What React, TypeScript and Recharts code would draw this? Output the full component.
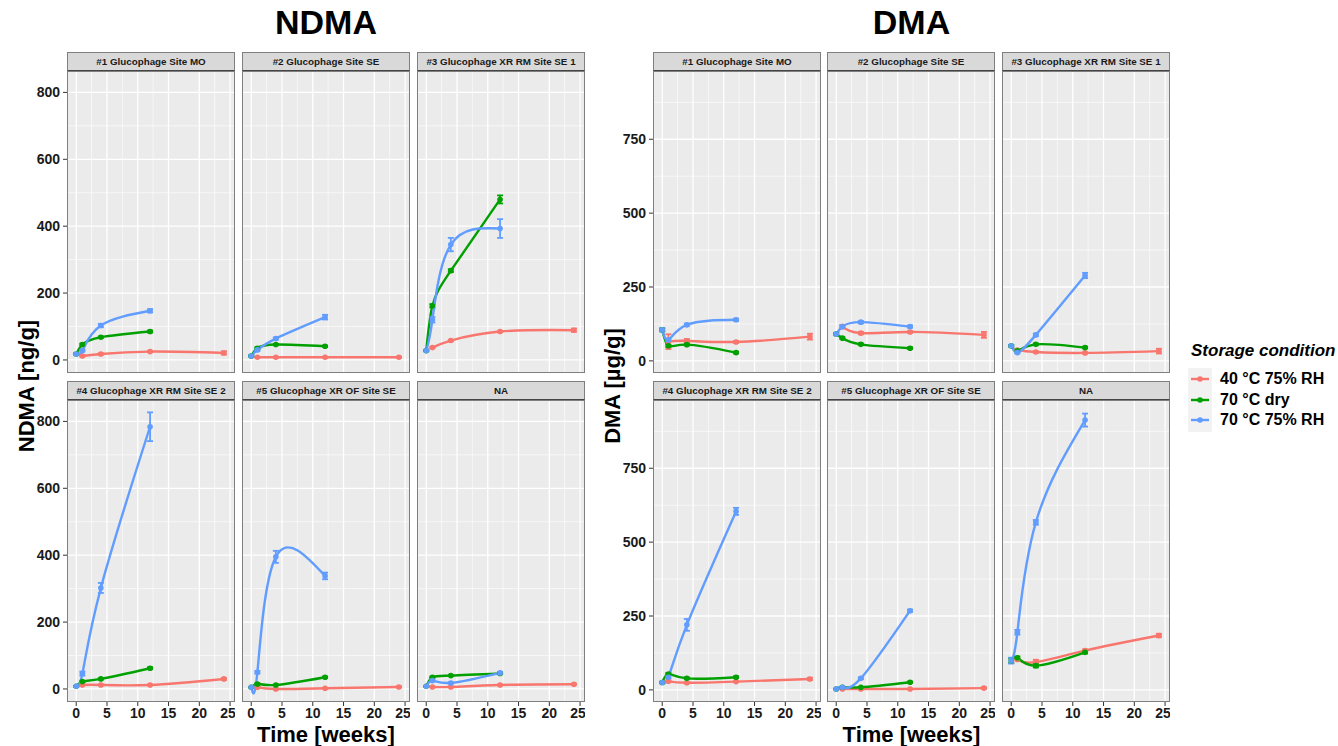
import React from 'react';
import { ComposedChart, Line, XAxis, YAxis, CartesianGrid, ErrorBar } from 'recharts';

const FONT = '"Liberation Sans", Arial, Helvetica, sans-serif';

const facetTitles = [
  '#1 Glucophage Site MO',
  '#2 Glucophage Site SE',
  '#3 Glucophage XR RM Site SE 1',
  '#4 Glucophage XR RM Site SE 2',
  '#5 Glucophage XR OF Site SE',
  'NA',
];

const conditions = ['40 °C 75% RH', '70 °C dry', '70 °C 75% RH'];
const conditionColors = ['#F8766D', '#00A000', '#619CFF'];

// sampling weeks per storage condition
const weeks40 = [1, 4, 12, 24];
const weeks70 = [0, 1, 4, 12];

const xTicks = [0, 5, 10, 15, 20, 25];
const xMinor = [2.5, 7.5, 12.5, 17.5, 22.5];

const ndmaTicks = [0, 200, 400, 600, 800];
const ndmaMinor = [100, 300, 500, 700];
const dmaTicks = [0, 250, 500, 750];
const dmaMinor = [125, 375, 625, 875];

// NDMA [ng/g], one row per facet
const ndma40 = [
  [12, 18, 25, 21],
  [8, 8, 8, 8],
  [37, 58, 85, 89],
  [12, 12, 12, 30],
  [5, 0, 2, 6],
  [6, 6, 12, 14],
];
const ndma40Err = [
  [2, 2, 2, 5],
  [1, 1, 1, 2],
  [2, 2, 2, 5],
  [1, 1, 1, 3],
  [1, 1, 1, 2],
  [1, 1, 1, 2],
];
const ndmaDry = [
  [18, 46, 68, 85],
  [12, 35, 46, 41],
  [28, 162, 267, 480],
  [8, 22, 30, 62],
  [5, 15, 12, 35],
  [8, 35, 40, 46],
];
const ndmaDryErr = [
  [2, 3, 2, 3],
  [2, 3, 2, 2],
  [2, 5, 4, 12],
  [1, 2, 2, 3],
  [1, 2, 1, 2],
  [1, 2, 2, 2],
];
const ndmaHumid = [
  [18, 28, 103, 147],
  [12, 30, 64, 128],
  [28, 120, 345, 393],
  [8, 46, 302, 784],
  [5, 50, 395, 338],
  [8, 25, 18, 48],
];
const ndmaHumidErr = [
  [2, 3, 5, 5],
  [2, 3, 3, 7],
  [2, 8, 20, 28],
  [1, 6, 15, 43],
  [1, 4, 18, 10],
  [1, 2, 2, 3],
];

// DMA [µg/g], one row per facet
const dma40 = [
  [65, 68, 64, 82],
  [116, 94, 98, 88],
  [37, 30, 27, 33],
  [29, 24, 28, 37],
  [3, 3, 3, 6],
  [103, 94, 133, 184],
];
const dma40Err = [
  [25, 6, 3, 10],
  [6, 4, 3, 10],
  [3, 2, 2, 8],
  [3, 2, 2, 4],
  [1, 1, 1, 3],
  [4, 8, 4, 6],
];
const dmaDry = [
  [105, 51, 55, 28],
  [91, 77, 56, 43],
  [51, 34, 56, 45],
  [25, 54, 39, 43],
  [3, 9, 9, 26],
  [99, 109, 82, 127],
];
const dmaDryErr = [
  [5, 4, 3, 3],
  [4, 3, 3, 3],
  [3, 3, 3, 3],
  [3, 3, 3, 3],
  [1, 1, 1, 2],
  [8, 4, 6, 4],
];
const dmaHumid = [
  [105, 71, 122, 139],
  [91, 116, 131, 116],
  [51, 28, 88, 289],
  [25, 43, 220, 604],
  [3, 9, 39, 268],
  [99, 195, 567, 913],
];
const dmaHumidErr = [
  [5, 4, 4, 4],
  [4, 4, 4, 4],
  [3, 3, 4, 9],
  [2, 4, 20, 12],
  [1, 2, 3, 4],
  [10, 8, 8, 22],
];

const X_DOMAIN: [number, number] = [-1.5, 25.8];
const NDMA_DOMAIN: [number, number] = [-39, 864];
const DMA_DOMAIN: [number, number] = [-41, 981];

const PANEL_W = 168;
const PANEL_H = 302;
const STRIP_H = 19;
const Y_AXIS_W = 44;
const X_AXIS_H = 26;

const ndmaCols = [67, 242, 417];
const dmaCols = [653, 827, 1002];
const rowTops = [71, 400];

const tickStyle = { fontFamily: FONT, fontSize: 14, fontWeight: 700, fill: '#1A1A1A' };

type Pt = { t: number; v: number; e: number };

const toPoints = (weeks: number[], vals: number[], errs: number[]): Pt[] =>
  weeks.map((t, i) => ({ t, v: vals[i], e: errs[i] }));

interface FacetProps {
  left: number;
  top: number;
  title: string;
  showX: boolean;
  showY: boolean;
  yDomain: [number, number];
  yTicks: number[];
  yMinor: number[];
  series: Pt[][];
}

const Facet: React.FC<FacetProps> = ({ left, top, title, showX, showY, yDomain, yTicks, yMinor, series }) => {
  const w = PANEL_W + (showY ? Y_AXIS_W : 0);
  const h = PANEL_H + (showX ? X_AXIS_H : 0);
  return (
    <>
      <div
        style={{
          position: 'absolute',
          left,
          top: top - STRIP_H,
          width: PANEL_W,
          height: STRIP_H,
          boxSizing: 'border-box',
          background: '#D9D9D9',
          border: '1px solid #7F7F7F',
          borderBottom: '1.5px solid #444',
          fontFamily: FONT,
          fontSize: 9.8,
          fontWeight: 700,
          color: '#1A1A1A',
          textAlign: 'center',
          lineHeight: '17px',
          whiteSpace: 'nowrap',
        }}
      >
        {title}
      </div>
      <div style={{ position: 'absolute', left: left - (showY ? Y_AXIS_W : 0), top }}>
        <ComposedChart width={w} height={h} margin={{ top: 0, right: 0, bottom: 0, left: 0 }}>
          <XAxis
            xAxisId="x"
            dataKey="t"
            type="number"
            domain={X_DOMAIN}
            ticks={xTicks}
            allowDataOverflow
            hide={!showX}
            height={X_AXIS_H}
            tick={tickStyle}
            tickSize={4}
            tickMargin={2}
            axisLine={false}
            tickLine={{ stroke: '#333' }}
          />
          <XAxis xAxisId="xm" dataKey="t" type="number" domain={X_DOMAIN} ticks={xMinor} allowDataOverflow hide />
          <YAxis
            yAxisId="y"
            type="number"
            domain={yDomain}
            ticks={yTicks}
            allowDataOverflow
            hide={!showY}
            width={Y_AXIS_W}
            tick={tickStyle}
            tickSize={4}
            tickMargin={3}
            axisLine={false}
            tickLine={{ stroke: '#333' }}
          />
          <YAxis yAxisId="ym" type="number" domain={yDomain} ticks={yMinor} allowDataOverflow hide />
          <CartesianGrid xAxisId="xm" yAxisId="ym" fill="#EBEBEB" fillOpacity={1} stroke="#FFFFFF" strokeWidth={0.6} />
          <CartesianGrid xAxisId="x" yAxisId="y" stroke="#FFFFFF" strokeWidth={1.3} />
          {series.map((pts, i) => (
            <Line
              key={conditions[i]}
              xAxisId="x"
              yAxisId="y"
              data={pts}
              dataKey="v"
              type="natural"
              stroke={conditionColors[i]}
              strokeWidth={2.4}
              dot={{ r: 2.8, fill: conditionColors[i], stroke: conditionColors[i], strokeWidth: 0 }}
              activeDot={false}
              isAnimationActive={false}
            >
              <ErrorBar dataKey="e" direction="y" width={3} stroke={conditionColors[i]} strokeWidth={1.8} isAnimationActive={false} />
            </Line>
          ))}
        </ComposedChart>
      </div>
      <div
        style={{
          position: 'absolute',
          left,
          top,
          width: PANEL_W,
          height: PANEL_H,
          boxSizing: 'border-box',
          border: '1px solid #7F7F7F',
          pointerEvents: 'none',
        }}
      />
    </>
  );
};

const bigText = { fontFamily: FONT, fontWeight: 700, color: '#000', position: 'absolute' as const, whiteSpace: 'nowrap' as const };

const App: React.FC = () => {
  const panels = [
    {
      cols: ndmaCols,
      title: 'NDMA',
      yLabel: 'NDMA [ng/g]',
      domain: NDMA_DOMAIN,
      ticks: ndmaTicks,
      minor: ndmaMinor,
      data: [ndma40, ndmaDry, ndmaHumid],
      err: [ndma40Err, ndmaDryErr, ndmaHumidErr],
    },
    {
      cols: dmaCols,
      title: 'DMA',
      yLabel: 'DMA [µg/g]',
      domain: DMA_DOMAIN,
      ticks: dmaTicks,
      minor: dmaMinor,
      data: [dma40, dmaDry, dmaHumid],
      err: [dma40Err, dmaDryErr, dmaHumidErr],
    },
  ];

  return (
    <div style={{ position: 'absolute', left: 0, top: 0, width: 1338, height: 746, background: '#fff', overflow: 'hidden' }}>
      {panels.map((p) => {
        const centerX = (p.cols[0] + p.cols[2] + PANEL_W) / 2;
        return (
          <React.Fragment key={p.title}>
            <div style={{ ...bigText, fontSize: 34, left: centerX - 100, width: 200, textAlign: 'center', top: 2, lineHeight: '40px' }}>
              {p.title}
            </div>
            <div style={{ ...bigText, fontSize: 22, left: centerX - 100, width: 200, textAlign: 'center', top: 722, lineHeight: '26px' }}>
              Time [weeks]
            </div>
            <div
              style={{
                ...bigText,
                fontSize: 22,
                left: p.cols[0] - 140,
                top: 373,
                width: 200,
                textAlign: 'center',
                lineHeight: '26px',
                transform: 'rotate(-90deg)',
              }}
            >
              {p.yLabel}
            </div>
            {facetTitles.map((ft, f) => {
              const row = Math.floor(f / 3);
              const col = f % 3;
              const series = [0, 1, 2].map((s) =>
                toPoints(s === 0 ? weeks40 : weeks70, p.data[s][f], p.err[s][f])
              );
              return (
                <Facet
                  key={ft}
                  left={p.cols[col]}
                  top={rowTops[row]}
                  title={ft}
                  showX={row === 1}
                  showY={col === 0}
                  yDomain={p.domain}
                  yTicks={p.ticks}
                  yMinor={p.minor}
                  series={series}
                />
              );
            })}
          </React.Fragment>
        );
      })}

      <div style={{ ...bigText, left: 1191, top: 340, fontSize: 17, fontStyle: 'italic', lineHeight: '22px' }}>
        Storage condition
      </div>
      <div style={{ position: 'absolute', left: 1188, top: 368, width: 24, height: 64, background: '#F2F2F2' }} />
      {conditions.map((c, i) => (
        <React.Fragment key={c}>
          <svg style={{ position: 'absolute', left: 1188, top: 369 + i * 20.5 }} width={24} height={20}>
            <line x1={3} x2={21} y1={10} y2={10} stroke={conditionColors[i]} strokeWidth={2.4} />
            <circle cx={12} cy={10} r={2.8} fill={conditionColors[i]} />
          </svg>
          <div style={{ ...bigText, left: 1220, top: 369 + i * 20.5, fontSize: 16, lineHeight: '20px' }}>{c}</div>
        </React.Fragment>
      ))}
    </div>
  );
};

export default App;
